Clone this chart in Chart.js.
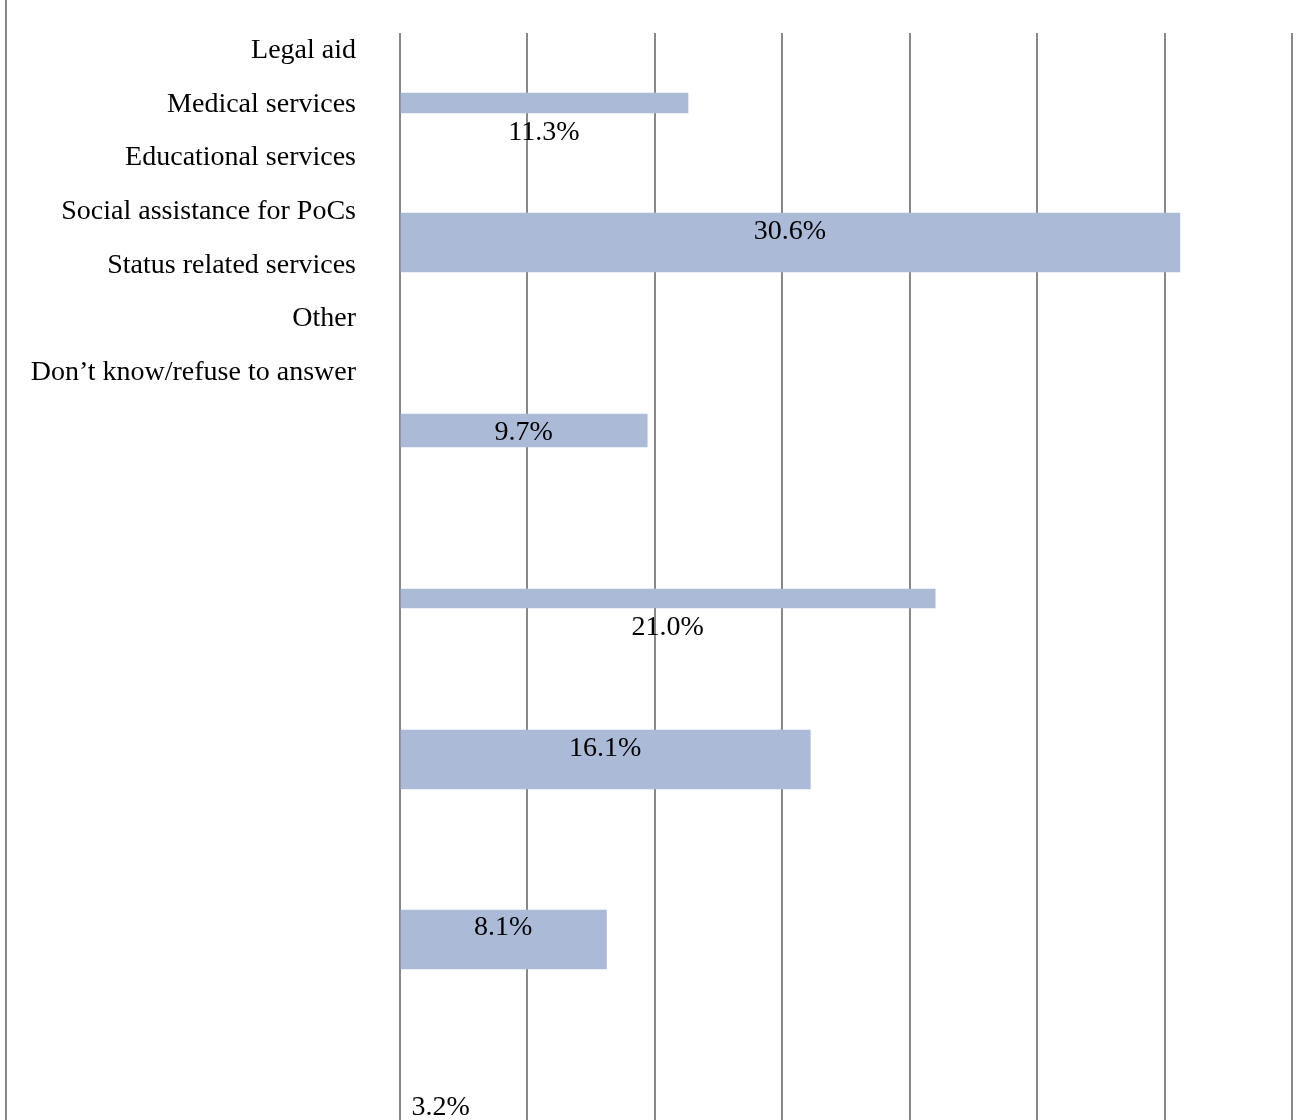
<!DOCTYPE html>
<html>
<head>
<meta charset="utf-8">
<title>Services requested</title>
<script src="https://cdn.jsdelivr.net/npm/chart.js@4"></script>
<style>
    html, body { margin: 0; padding: 0; background: #fff; }
    #chart-wrap { position: relative; width: 1303px; height: 1120px; }
</style>
</head>
<body>
<div id="chart-wrap"><canvas id="services-chart" width="1303" height="1120"></canvas></div>
<script>
// --- Data ---
const categories = [
    'Legal aid',
    'Medical services',
    'Educational services',
    'Social assistance for PoCs',
    'Status related services',
    'Other',
    'Don\u2019t know/refuse to answer'
];
const shares = [11.3, 30.6, 9.7, 21.0, 16.1, 8.1, 3.2];
const axisMax = 35;
const axisStep = 5;

// --- Layout (rows on the hidden vertical scale, thickness in px) ---
const rowCount = 20;
const barRows = [1.288, 3.855, 7.314, 10.405, 13.367, 16.679, 20.55];
const barThick = [20, 59, 33, 19, 59, 59, 59];
const valueRows = [1.960, 3.790, 7.489, 11.076, 13.303, 16.596, 19.908];
const nameRowStart = 0.46;
const nameRowStep = 0.988;

const FONT = '28px "Liberation Serif", "Times New Roman", serif';
const BAR_COLOR = '#abbad7';
const GRID_COLOR = '#888888';

// one dataset per bar so each can keep its own thickness
const datasets = shares.map((v, i) => ({
    label: categories[i],
    data: [{ x: v, y: barRows[i] }],
    backgroundColor: BAR_COLOR,
    borderWidth: 0,
    barThickness: barThick[i],
    grouped: false
}));

// page rule on the far left
const frameLine = {
    id: 'frameLine',
    beforeDraw(chart) {
        const ctx = chart.ctx;
        ctx.save();
        ctx.strokeStyle = GRID_COLOR;
        ctx.lineWidth = 2;
        ctx.beginPath();
        ctx.moveTo(6, 0);
        ctx.lineTo(6, chart.height);
        ctx.stroke();
        ctx.restore();
    }
};

// category names and value labels
const textLabels = {
    id: 'textLabels',
    afterDatasetsDraw(chart) {
        const ctx = chart.ctx;
        const xs = chart.scales.x;
        const ys = chart.scales.y;
        ctx.save();
        ctx.font = FONT;
        ctx.fillStyle = '#000';
        ctx.textBaseline = 'alphabetic';

        ctx.textAlign = 'right';
        categories.forEach((name, i) => {
            ctx.fillText(name, xs.left - 44, ys.getPixelForValue(nameRowStart + i * nameRowStep));
        });

        ctx.textAlign = 'center';
        shares.forEach((v, i) => {
            ctx.fillText(v.toFixed(1) + '%', xs.getPixelForValue(v / 2), ys.getPixelForValue(valueRows[i]));
        });
        ctx.restore();
    }
};

const chart = new Chart(document.getElementById('services-chart'), {
    type: 'bar',
    data: { datasets },
    options: {
        indexAxis: 'y',
        responsive: false,
        animation: false,
        devicePixelRatio: 1,
        layout: { padding: { left: 400, right: 11, top: 33, bottom: 0 } },
        plugins: {
            legend: { display: false },
            tooltip: { enabled: false }
        },
        scales: {
            x: {
                type: 'linear',
                min: 0,
                max: axisMax,
                z: 1,
                ticks: { display: false, stepSize: axisStep },
                grid: { color: GRID_COLOR, lineWidth: 2, drawTicks: false },
                border: { display: false }
            },
            y: {
                type: 'linear',
                reverse: true,
                offset: false,
                min: 0,
                max: rowCount,
                display: false
            }
        }
    },
    plugins: [frameLine, textLabels]
});
</script>
</body>
</html>
